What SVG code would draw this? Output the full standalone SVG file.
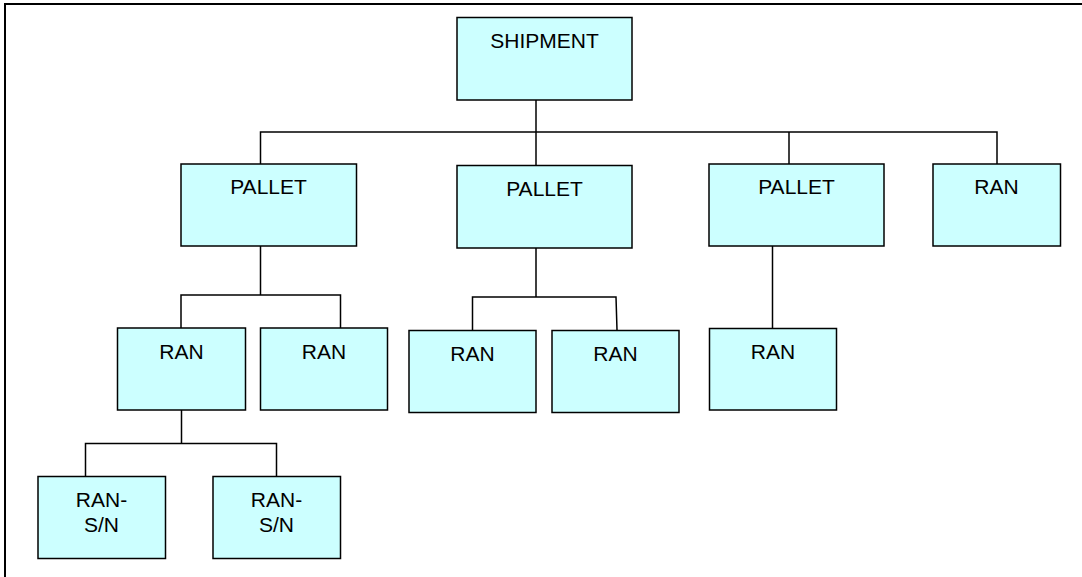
<svg xmlns="http://www.w3.org/2000/svg" width="1082" height="577" viewBox="0 0 1082 577">
<style>
.box{fill:#CCFFFF;stroke:#000;stroke-width:1.5}
.lbl{font-family:"Liberation Sans",Arial,sans-serif;font-size:21px;fill:#000;text-anchor:middle}
.con{fill:none;stroke:#000;stroke-width:1.5}
.frame{fill:none;stroke:#000;stroke-width:2}
</style>
<rect width="1082" height="577" fill="#fff"/>
<path class="frame" d="M5,577 V4 H1082"/>
<g id="connectors">
<path class="con" d="M536,100 V165.5"/>
<path class="con" d="M260.5,164 V132 H997 V164"/>
<path class="con" d="M789,132 V164"/>
<path class="con" d="M260.5,246 V295 M181,328 V295 H340.5 V328"/>
<path class="con" d="M536,248 V297 M472.5,330 V297 H616 L617,330"/>
<path class="con" d="M772.5,246 V328"/>
<path class="con" d="M181.5,410 V443.5 M85.5,476.5 V443.5 H276.5 V476.5"/>
</g>
<g id="shipment"><rect class="box" x="457" y="17.5" width="175" height="82.5"/><text class="lbl" x="544.5" y="48">SHIPMENT</text></g>
<g id="pallet1"><rect class="box" x="181" y="164" width="175.5" height="82"/><text class="lbl" x="268.5" y="194">PALLET</text></g>
<g id="pallet2"><rect class="box" x="457" y="165.5" width="175" height="82.5"/><text class="lbl" x="544.5" y="195.5">PALLET</text></g>
<g id="pallet3"><rect class="box" x="709" y="164" width="175" height="82"/><text class="lbl" x="796.5" y="194">PALLET</text></g>
<g id="ran-top"><rect class="box" x="933" y="164" width="127.5" height="82"/><text class="lbl" x="996.5" y="194">RAN</text></g>
<g id="ran-1a"><rect class="box" x="117.5" y="328" width="128" height="82"/><text class="lbl" x="181.5" y="359">RAN</text></g>
<g id="ran-1b"><rect class="box" x="260.5" y="328" width="127" height="82"/><text class="lbl" x="324" y="359">RAN</text></g>
<g id="ran-2a"><rect class="box" x="409" y="330.5" width="127" height="82"/><text class="lbl" x="472.5" y="361">RAN</text></g>
<g id="ran-2b"><rect class="box" x="552" y="330.5" width="127" height="82"/><text class="lbl" x="615.5" y="361">RAN</text></g>
<g id="ran-3"><rect class="box" x="709.5" y="328.5" width="127" height="81.5"/><text class="lbl" x="773" y="358.5">RAN</text></g>
<g id="ransn-a"><rect class="box" x="38" y="476.5" width="127.5" height="82"/><text class="lbl" x="101.5" y="506.5">RAN-</text><text class="lbl" x="101.5" y="531.5">S/N</text></g>
<g id="ransn-b"><rect class="box" x="213" y="476.5" width="127.5" height="82"/><text class="lbl" x="276.5" y="506.5">RAN-</text><text class="lbl" x="276.5" y="531.5">S/N</text></g>
</svg>
